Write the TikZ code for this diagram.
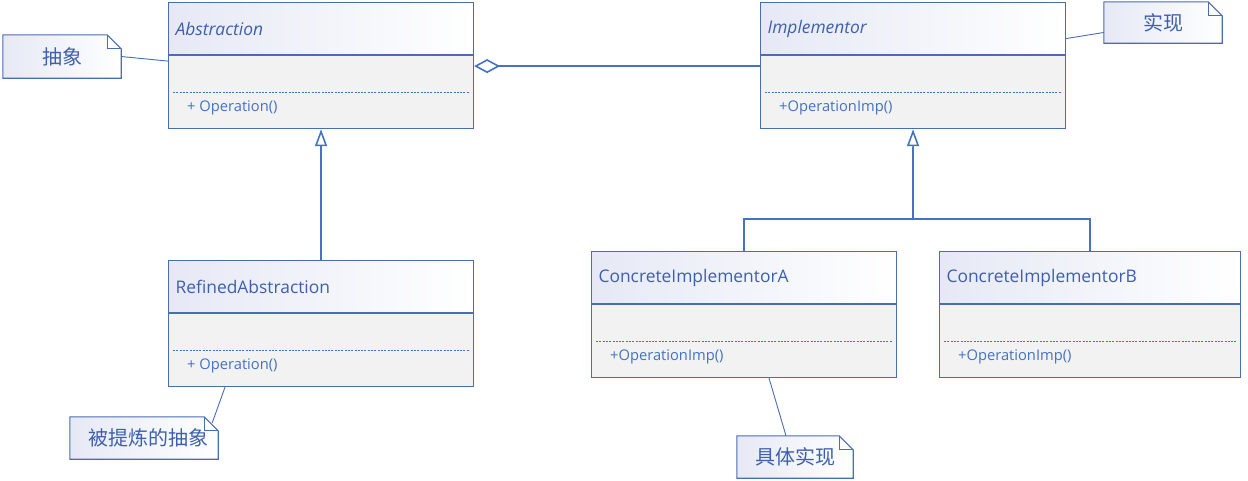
\documentclass[tikz,border=0pt]{standalone}
\usepackage{fontspec}
\setmainfont{Open Sans}
\newfontfamily\cnfont{Noto Sans CJK SC}
\usetikzlibrary{arrows.meta,backgrounds}
\definecolor{lineblue}{HTML}{4472C4}
\definecolor{boxblue}{HTML}{4A6CB3}
\definecolor{textblue}{HTML}{3E5FAE}
\definecolor{bodygray}{HTML}{F2F2F2}
\definecolor{headtint}{HTML}{E6E9F5}

\begin{document}
\begin{tikzpicture}[x=1pt, y=-1pt,
  clshead/.style={draw=boxblue, line width=1.1pt, left color=headtint, right color=white,
    minimum width=305, minimum height=52, text width=291, inner xsep=7pt, align=left,
    anchor=north west, text=textblue, font=\fontsize{17.4}{20}\selectfont},
  clsbody/.style={draw=boxblue, line width=1.1pt, fill=bodygray,
    minimum width=305, minimum height=73, anchor=north west},
  optext/.style={anchor=west, inner sep=0pt, text=lineblue, font=\fontsize{14.7}{17}\selectfont},
  sep/.style={lineblue, line width=0.8pt, dash pattern=on 2pt off 1.3pt},
  notebox/.style={minimum height=42, inner sep=0pt, text=textblue, font=\fontsize{20}{23}\cnfont},
  link/.style={lineblue, line width=1.6pt},
  inherit/.style={link, -{Triangle[open, length=17pt, width=12pt]}},
  notelink/.style={boxblue, line width=0.9pt}
]
  \useasboundingbox (0,0) rectangle (1248,480);

  % classes
  \node[clshead] (abs) at (168,2) {\itshape Abstraction};
  \node[clsbody] (absb) at (abs.south west) {};
  \node[optext] (absop) at ([xshift=19pt, yshift=-53pt]absb.north west) {+ Operation()};

  \node[clshead] (imp) at (760,2) {\itshape Implementor};
  \node[clsbody] (impb) at (imp.south west) {};
  \node[optext] (impop) at ([xshift=19pt, yshift=-53pt]impb.north west) {+OperationImp()};

  \node[clshead] (ref) at (168,260) {RefinedAbstraction};
  \node[clsbody] (refb) at (ref.south west) {};
  \node[optext] (refop) at ([xshift=19pt, yshift=-53pt]refb.north west) {+ Operation()};

  \node[clshead] (ca) at (591,251) {ConcreteImplementorA};
  \node[clsbody] (cab) at (ca.south west) {};
  \node[optext] (caop) at ([xshift=19pt, yshift=-53pt]cab.north west) {+OperationImp()};

  \node[clshead, minimum width=301, text width=287] (cb) at (939,251) {ConcreteImplementorB};
  \node[clsbody, minimum width=301] (cbb) at (cb.south west) {};
  \node[optext] (cbop) at ([xshift=19pt, yshift=-53pt]cbb.north west) {+OperationImp()};

  \foreach \c in {absb,impb,refb,cab,cbb}
    \draw[sep] ([xshift=5pt, yshift=-37pt]\c.north west) -- ([xshift=-5pt, yshift=-37pt]\c.north east);

  % notes
  \node[notebox, minimum width=118, minimum height=43] (nabs) at (62,56.5) {抽象};
  \node[notebox, minimum width=118, minimum height=41] (nimp) at (1163,22.5) {实现};
  \node[notebox, minimum width=148] (nref) at (144,438) {\hspace*{8pt}被提炼的抽象};
  \node[notebox, minimum width=116] (nca) at (795,457) {具体实现};

  \begin{scope}[on background layer]
    \foreach \n in {nabs,nimp,nref,nca} {
      \shadedraw[draw=boxblue, line width=1.1pt, left color=headtint, right color=white]
        (\n.north west) -- ([xshift=-14pt]\n.north east) -- ([yshift=-14pt]\n.north east)
        -- (\n.south east) -- (\n.south west) -- cycle;
      \draw[boxblue, line width=0.9pt] ([xshift=-14pt]\n.north east) |- ([yshift=-14pt]\n.north east);
    }
  \end{scope}

  % connectors
  \draw[link, {Diamond[open, length=26pt, width=14pt]}-] ([yshift=-11pt]absb.north east) -- ([yshift=-11pt]impb.north west);
  \draw[inherit] (ref.north) -- (absb.south);
  \coordinate (join) at (913,219);
  \draw[link] (ca.north) |- (join) -| (cb.north);
  \draw[inherit] (join) -- (impb.south);

  \draw[notelink] (nabs.east) -- ([yshift=-6pt]absb.north west);
  \draw[notelink] ([yshift=-10pt]imp.east) -- ([yshift=-10pt]nimp.west);
  \draw[notelink] ([xshift=57pt]refb.south west) -- ([xshift=-6pt, yshift=-6pt]nref.north east);
  \draw[notelink] ([xshift=25pt]cab.south) -- ([xshift=-9pt]nca.north);
\end{tikzpicture}
\end{document}
